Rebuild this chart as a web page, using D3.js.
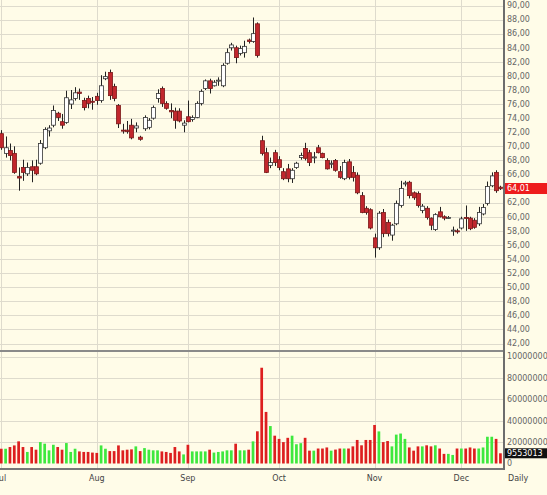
<!DOCTYPE html>
<html>
<head>
<meta charset="utf-8">
<script src="https://cdn.jsdelivr.net/npm/d3@7/dist/d3.min.js"></script>
<style>
body { margin: 0; background: #fffce8; }
svg { display: block; }
text { font-family: "DejaVu Sans", Verdana, sans-serif; font-size: 8px; }
</style>
</head>
<body>
<div class="container"></div>
<script>
// daily candles, Jul - Dec
var opens = [71.8,69.0,69.4,69.0,65.7,67.0,66.1,67.1,67.1,67.6,69.8,72.2,73.0,74.7,73.5,73.4,76.0,76.8,77.7,76.5,
  76.8,76.4,77.1,76.5,79.6,80.5,78.5,75.8,72.3,72.3,73.0,72.6,71.3,72.5,72.7,74.0,76.8,78.2,76.1,75.1,
  75.0,75.0,73.0,74.2,73.8,74.1,76.1,78.2,79.3,78.6,79.3,78.6,81.8,84.0,84.0,83.2,83.3,85.1,84.9,87.4,
  70.8,69.1,67.3,69.1,68.1,66.4,66.8,65.4,67.0,68.4,69.7,69.1,68.4,69.8,69.0,68.0,67.5,68.0,66.4,65.4,
  67.8,66.3,65.9,63.0,61.2,61.0,57.0,55.6,60.6,59.2,57.4,59.0,61.6,64.7,64.9,63.4,63.3,60.9,61.2,59.8,
  58.2,60.7,60.0,59.8,58.0,58.0,58.4,59.9,59.8,59.5,59.0,60.4,61.9,64.4,66.3,64.2];
var highs = [72.3,71.4,70.4,70.0,67.0,68.1,67.7,68.0,68.1,70.9,72.7,73.0,75.8,74.9,74.6,77.9,78.0,78.4,78.2,76.9,
  77.2,77.0,77.6,80.1,80.6,80.9,78.9,76.0,73.2,73.6,73.9,73.4,71.5,74.4,74.0,75.8,78.1,78.5,76.4,76.1,
  75.5,75.4,73.7,76.5,74.4,76.4,78.1,79.5,79.6,79.4,79.8,81.8,83.9,84.7,84.3,84.3,85.0,85.3,88.3,87.6,
  71.5,69.8,68.4,69.5,68.6,66.9,67.5,66.9,67.8,69.1,70.5,69.5,69.2,70.2,69.1,68.3,68.0,68.2,67.2,68.1,
  68.2,67.2,66.3,63.5,61.5,61.2,57.6,60.8,61.1,59.6,59.0,62.3,65.1,65.1,65.1,63.6,63.6,61.8,61.5,59.9,
  60.5,61.4,60.2,60.1,58.6,58.3,60.0,61.6,60.0,59.8,61.4,61.8,65.0,66.3,66.6,64.4];
var lows = [69.5,68.4,68.0,66.1,63.7,65.1,65.8,64.9,65.9,67.4,69.6,71.4,72.7,73.6,72.5,73.2,75.3,76.5,76.6,75.1,
  75.4,75.2,75.9,76.2,79.4,76.6,76.4,72.6,71.8,71.8,71.0,72.0,70.8,72.2,72.4,73.8,76.2,75.6,75.2,74.0,
  72.5,73.4,72.0,73.4,73.5,74.0,75.8,78.0,77.5,78.5,78.6,78.4,81.6,83.6,81.8,82.9,82.6,84.6,84.7,82.6,
  68.7,66.2,66.9,67.2,66.6,65.2,64.9,64.8,66.8,68.1,68.0,67.2,67.6,69.0,68.3,66.7,66.9,66.4,65.4,65.2,
  65.3,65.0,63.2,60.5,60.3,58.2,54.2,55.3,57.1,57.2,56.6,58.8,61.3,64.3,62.6,62.4,61.3,60.5,59.6,58.1,
  58.0,59.9,59.5,59.7,57.3,57.6,58.2,58.0,58.1,58.3,58.7,60.2,61.6,64.2,63.4,63.8];
var closes = [69.8,69.8,68.7,66.3,65.5,66.3,67.0,66.6,66.1,70.4,72.4,72.6,75.1,74.1,73.0,76.9,76.6,77.6,77.5,75.5,
  76.1,76.3,76.5,78.6,79.9,77.2,76.8,73.2,72.2,72.1,71.2,72.9,71.0,74.1,73.7,75.5,77.5,76.1,75.4,74.9,
  73.7,73.6,73.3,73.5,74.1,76.1,77.8,79.3,78.2,79.1,79.4,81.5,83.3,84.4,82.6,83.9,84.2,84.9,86.0,82.9,
  69.0,66.3,67.7,67.7,67.0,65.4,65.4,66.6,67.6,68.7,68.3,67.7,68.5,69.1,68.4,66.8,67.6,66.6,65.6,67.7,
  65.6,65.6,63.4,60.6,60.6,58.4,55.6,60.5,57.6,57.6,58.8,61.9,64.0,64.8,63.0,62.7,61.6,61.5,59.9,58.8,
  60.3,60.0,59.8,59.9,58.1,57.9,59.7,59.8,58.3,58.5,60.6,61.3,64.3,65.8,63.7,64.01];
// volume in millions
var volumes = [13.8,13.8,15.4,16.9,20.7,15.4,10.8,15.4,12.9,20.0,18.5,12.3,17.5,15.4,12.9,19.1,10.8,13.8,11.3,10.8,
  10.8,10.2,9.9,16.9,13.8,11.6,11.6,16.9,12.3,12.9,13.2,16.0,11.6,14.4,12.9,12.3,12.3,11.3,10.8,9.9,
  15.4,11.3,8.5,17.5,11.3,11.3,11.3,11.3,12.9,10.2,10.8,11.3,12.3,12.3,18.5,12.3,12.3,12.9,20.7,30.1,
  89.5,48.2,35.0,26.0,23.0,20.0,24.0,26.0,18.0,19.0,24.0,12.0,12.0,14.0,14.0,15.0,12.0,13.0,14.0,14.0,
  14.0,16.0,22.0,17.0,22.0,22.0,36.0,30.0,20.0,21.0,16.0,27.0,28.0,23.0,15.0,12.0,16.0,16.0,17.0,16.0,
  17.0,14.0,9.0,9.0,8.0,14.0,14.0,14.0,15.0,14.0,14.0,15.0,25.0,25.0,23.0,9.553013];
var months = ["Jul", "Aug", "Sep", "Oct", "Nov", "Dec"];
var monthStart = [0, 22, 43, 64, 86, 106];
var lastClose = "64,01";
var lastVolume = "9553013";

// canvas
var W = 547, H = 495;
var plotRight = 504;
var priceBottom = 351, volTop = 352, volBottom = 469;

var svg = d3.select(".container")
  .append("svg")
  .attr("width", W)
  .attr("height", H);

svg.append("rect").attr("width", W).attr("height", H).attr("fill", "#fffce8");

// scales
var x = d3.scaleBand().domain(d3.range(opens.length)).range([-0.9, 502.6]);
function cx(i) { return x(i) + x.bandwidth() / 2; }
var y = d3.scaleLinear().domain([42, 90]).range([343.5, 5.5]);
var yv = d3.scaleLinear().domain([0, 100]).range([463.5, 356.5]);

var priceTicks = d3.range(42, 91, 2);
var volTicks = [0, 20, 40, 60, 80, 100];
var fmtPrice = function(d) { return d3.format(".2f")(d).replace(".", ","); };

// grid
var grid = svg.append("g").attr("stroke", "#dedbcd").attr("stroke-width", 1);
grid.selectAll(".hp").data(priceTicks).enter().append("line")
  .attr("x1", 0).attr("x2", plotRight)
  .attr("y1", function(d) { return Math.round(y(d)) + 0.5; })
  .attr("y2", function(d) { return Math.round(y(d)) + 0.5; });
grid.selectAll(".hv").data(volTicks.slice(1)).enter().append("line")
  .attr("x1", 0).attr("x2", plotRight)
  .attr("y1", function(d) { return Math.round(yv(d)) + 0.5; })
  .attr("y2", function(d) { return Math.round(yv(d)) + 0.5; });
grid.selectAll(".vm").data(monthStart).enter().append("line")
  .attr("x1", function(d) { return Math.round(cx(d)) + 0.5; })
  .attr("x2", function(d) { return Math.round(cx(d)) + 0.5; })
  .attr("y1", 0).attr("y2", volBottom);

// candles
var candles = svg.append("g").selectAll("g").data(d3.range(opens.length)).enter().append("g");
candles.append("line")
  .attr("x1", function(i) { return Math.round(cx(i)) + 0.5; })
  .attr("x2", function(i) { return Math.round(cx(i)) + 0.5; })
  .attr("y1", function(i) { return y(highs[i]); })
  .attr("y2", function(i) { return y(lows[i]); })
  .attr("stroke", "#222").attr("stroke-width", 1);
candles.append("rect")
  .attr("x", function(i) { return Math.round(cx(i)) - 1.5; })
  .attr("width", 4)
  .attr("y", function(i) { return y(Math.max(opens[i], closes[i])); })
  .attr("height", function(i) { return Math.max(1, Math.abs(y(opens[i]) - y(closes[i]))); })
  .attr("fill", function(i) { return closes[i] >= opens[i] ? "#ffffff" : "#c1272d"; })
  .attr("stroke", function(i) { return closes[i] >= opens[i] ? "#333" : "#7a1a1a"; })
  .attr("stroke-width", 0.8);

// volume bars
svg.append("g").selectAll("rect").data(d3.range(volumes.length)).enter().append("rect")
  .attr("x", function(i) { return cx(i) - 1.35; })
  .attr("width", 2.7)
  .attr("y", function(i) { return yv(volumes[i]); })
  .attr("height", function(i) { return yv(0) - yv(volumes[i]); })
  .attr("fill", function(i) { return closes[i] >= opens[i] ? "#3ee83e" : "#dd1f1f"; });

// frame lines
svg.append("line").attr("x1", 0).attr("x2", plotRight).attr("y1", priceBottom).attr("y2", priceBottom)
  .attr("stroke", "#8a8a8a").attr("stroke-width", 2);
svg.append("line").attr("x1", 0).attr("x2", plotRight).attr("y1", volBottom).attr("y2", volBottom)
  .attr("stroke", "#777").attr("stroke-width", 2);
svg.append("line").attr("x1", plotRight).attr("x2", plotRight).attr("y1", 0).attr("y2", volBottom + 1)
  .attr("stroke", "#6d6d6d").attr("stroke-width", 2);

// right axis labels
svg.append("g").selectAll("text").data(priceTicks).enter().append("text")
  .attr("x", 507).attr("y", function(d) { return y(d); }).attr("dy", "0.35em")
  .attr("fill", "#666").text(fmtPrice);
svg.append("g").selectAll("text").data(volTicks).enter().append("text")
  .attr("x", 507).attr("y", function(d) { return yv(d); }).attr("dy", "0.35em")
  .attr("fill", "#666").text(function(d) { return String(d * 1000000); });

// last price marker
var yl = y(closes[closes.length - 1]);
svg.append("rect").attr("x", 505).attr("y", yl - 5.5).attr("width", 42).attr("height", 11).attr("fill", "#ee1c1c");
svg.append("text").attr("x", 507).attr("y", yl).attr("dy", "0.35em").attr("fill", "#fff").text(lastClose);

// last volume marker
var ylv = yv(volumes[volumes.length - 1]);
svg.append("rect").attr("x", 505).attr("y", ylv - 5).attr("width", 42).attr("height", 10).attr("fill", "#111");
svg.append("text").attr("x", 507).attr("y", ylv).attr("dy", "0.35em").attr("fill", "#fff").text(lastVolume);

// month labels
svg.append("g").selectAll("text").data(months).enter().append("text")
  .attr("x", function(d, k) { return cx(monthStart[k]); })
  .attr("y", 481)
  .attr("text-anchor", "middle")
  .attr("fill", "#444")
  .text(function(d) { return d; });
svg.append("text").attr("x", 508).attr("y", 481).attr("fill", "#444").text("Daily");
</script>
</body>
</html>
